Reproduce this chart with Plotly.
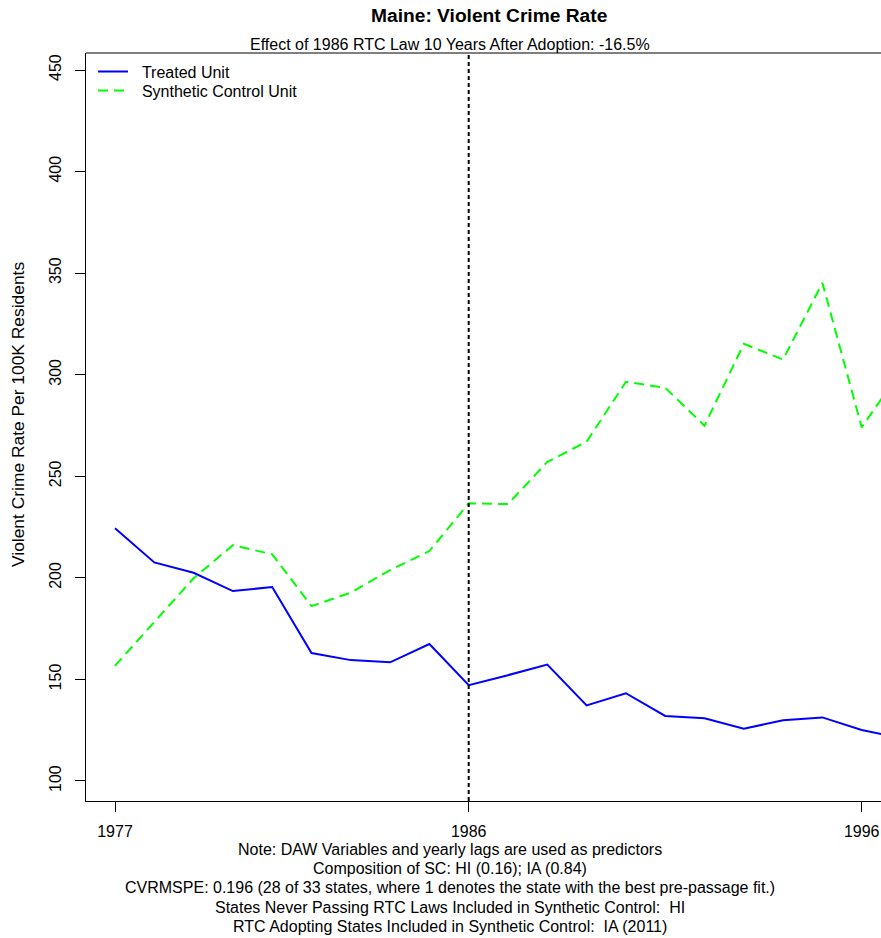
import plotly.graph_objects as go

# ---- data ----
years = list(range(1977, 1998))
treated = [224.4, 207.6, 202.5, 193.5, 195.5, 163.0, 159.5, 158.4, 167.4, 147.2,
           152.1, 157.3, 137.2, 143.2, 132.0, 130.9, 125.7, 129.9, 131.3, 125.1, 121.0]
synthetic = [156.7, 178.0, 199.8, 216.1, 211.6, 186.1, 192.7, 203.8, 213.2, 236.7,
             236.3, 257.1, 267.0, 296.5, 293.6, 274.9, 315.2, 307.5, 345.2, 274.1, 302.0]
adoption_year = 1986
x_ticks = [1977, 1986, 1996]
y_ticks = [100, 150, 200, 250, 300, 350, 400, 450]

title = "Maine: Violent Crime Rate"
subtitle = "Effect of 1986 RTC Law 10 Years After Adoption: -16.5%"
y_title = "Violent Crime Rate Per 100K Residents"
notes = [
    "Note: DAW Variables and yearly lags are used as predictors",
    "Composition of SC: HI (0.16); IA (0.84)",
    "CVRMSPE: 0.196 (28 of 33 states, where 1 denotes the state with the best pre-passage fit.)",
    "States Never Passing RTC Laws Included in Synthetic Control:  HI",
    "RTC Adopting States Included in Synthetic Control:  IA (2011)",
]

FONT = "Liberation Sans, Arial, Helvetica, sans-serif"
W, H = 881, 938
# plot box in screenshot pixels: left 86, top 53, bottom 801, right = edge
ML, MR, MT, MB = 86, 0, 53, 938 - 801
PW, PH = W - ML - MR, H - MT - MB


def px_x(x):  # screenshot x -> paper
    return (x - ML) / PW


def px_y(y):  # screenshot y -> paper
    return (H - MB - y) / PH


NB = "\u00a0\u00a0"

fig = go.Figure()
fig.add_trace(go.Scatter(x=years, y=treated, mode="lines", name=NB + "Treated Unit",
                         line=dict(color="#0000FF", width=2), legend="legend"))
fig.add_trace(go.Scatter(x=years, y=synthetic, mode="lines",
                         name=NB + "Synthetic Control Unit",
                         line=dict(color="#00FF00", width=2, dash="10px,6px"),
                         legend="legend2"))

# vertical adoption line
fig.add_shape(type="line", xref="x", yref="paper", x0=adoption_year, x1=adoption_year,
              y0=0, y1=1, line=dict(color="black", width=2, dash="4px,3px"))
# top border of the box
fig.add_shape(type="line", xref="paper", yref="paper", x0=0, x1=1, y0=1, y1=1,
              line=dict(color="black", width=1))

annotations = [
    dict(text="<b>" + title + "</b>", x=px_x(489), y=px_y(15), xref="paper", yref="paper",
         showarrow=False, font=dict(size=19.2, family=FONT, color="black"),
         xanchor="center", yanchor="middle"),
    dict(text=subtitle, x=px_x(449.5), y=px_y(44), xref="paper", yref="paper",
         showarrow=False, font=dict(size=16, family=FONT, color="black"),
         xanchor="center", yanchor="middle"),
    dict(text=y_title, x=px_x(18), y=px_y(415), xref="paper", yref="paper",
         showarrow=False, textangle=-90, font=dict(size=17.4, family=FONT, color="black"),
         xanchor="center", yanchor="middle"),
]
for i, line in enumerate(notes):
    annotations.append(dict(text=line, x=px_x(449.5), y=px_y(849 + i * 19.4),
                            xref="paper", yref="paper", showarrow=False,
                            font=dict(size=16, family=FONT, color="black"),
                            xanchor="center", yanchor="middle"))

leg_common = dict(xanchor="left", yanchor="top", bgcolor="rgba(0,0,0,0)", borderwidth=0,
                  font=dict(size=16, family=FONT, color="black"))

fig.update_layout(
    width=W, height=H,
    margin=dict(l=ML, r=MR, t=MT, b=MB),
    paper_bgcolor="white", plot_bgcolor="white",
    font=dict(family=FONT, size=16, color="black"),
    annotations=annotations,
    showlegend=True,
    hovermode=False,
    legend=dict(x=px_x(93), y=px_y(54.7), **leg_common),
    legend2=dict(x=px_x(93), y=px_y(73.7), **leg_common),
    xaxis=dict(range=[1976.262, 1996.491], tickmode="array", tickvals=x_ticks,
               ticktext=[str(v) for v in x_ticks], ticks="outside", ticklen=10,
               tickwidth=1, tickcolor="black", showline=True, linecolor="black",
               linewidth=1, showgrid=False, zeroline=False,
               tickfont=dict(size=16, family=FONT, color="black"), ticklabelstandoff=6),
    yaxis=dict(range=[90.15, 458.37], tickmode="array", tickvals=y_ticks,
               ticktext=[str(v) for v in y_ticks], ticks="outside", ticklen=10,
               tickwidth=1, tickcolor="black", showline=True, linecolor="black",
               linewidth=1, showgrid=False, zeroline=False, tickangle=-90,
               tickfont=dict(size=16, family=FONT, color="black"), ticklabelstandoff=8),
)

fig.write_html(
    "out.html",
    config={"displayModeBar": False},
    post_script="document.body.style.margin='0';document.body.style.overflow='hidden';"
                "document.documentElement.style.overflow='hidden';",
)
